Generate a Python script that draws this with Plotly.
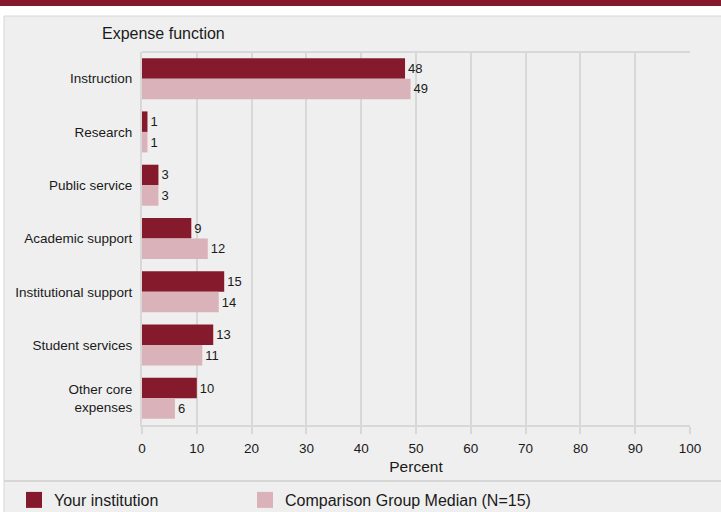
import plotly.graph_objects as go

categories = ["Instruction", "Research", "Public service", "Academic support",
              "Institutional support", "Student services", "Other core<br>expenses"]
your_institution = [48, 1, 3, 9, 15, 13, 10]
comparison_median = [49, 1, 3, 12, 14, 11, 6]
x_ticks = [0, 10, 20, 30, 40, 50, 60, 70, 80, 90, 100]
series_names = ["Your institution", "Comparison Group Median (N=15)"]

W, H = 721, 512
L, R, T, B = 142, 31, 52, 87
PW, PH = W - L - R, H - T - B
DARK = "#861a2d"
LIGHT = "#d9b3b9"
BG = "#efefef"
GRID = "#d8d8d8"
TXT = "#1a1a1a"
FONT = "Arial, Liberation Sans, sans-serif"


def px(x):
    # screen pixel -> plot-area-relative paper coordinate
    return (x - L) / PW


def py(y):
    return (H - B - y) / PH


fig = go.Figure()
for name, vals, col in [(series_names[0], your_institution, DARK),
                        (series_names[1], comparison_median, LIGHT)]:
    fig.add_trace(go.Bar(
        y=categories, x=vals, orientation="h", name=name, legendgroup=name,
        showlegend=False,
        marker=dict(color=col, line=dict(width=0)),
        text=[str(v) for v in vals], textposition="outside",
        textfont=dict(size=13, color=TXT, family=FONT), cliponaxis=False))

# legend entries (larger square swatches)
for i, (name, col) in enumerate([(series_names[0], DARK), (series_names[1], LIGHT)]):
    kw = dict(legendwidth=186) if i == 0 else {}
    fig.add_trace(go.Scatter(
        x=[None], y=[None], mode="markers", name=name, legendgroup=name,
        marker=dict(symbol="square", size=16, color=col, line=dict(width=0)),
        hoverinfo="skip", **kw))

shapes = [
    dict(type="rect", xref="paper", yref="paper", x0=px(-2), x1=px(725), y0=py(-2), y1=py(6),
         fillcolor=DARK, line=dict(width=0), layer="below"),
    dict(type="rect", xref="paper", yref="paper", x0=px(4), x1=px(730), y0=py(520), y1=py(16),
         fillcolor=BG, line=dict(color="#d6d6d6", width=1), layer="below"),
    dict(type="line", xref="paper", yref="paper", x0=px(4), x1=px(725), y0=py(481), y1=py(481),
         line=dict(color="#d6d6d6", width=2), layer="below"),
    dict(type="line", xref="paper", yref="paper", x0=0, x1=1, y0=1, y1=1,
         line=dict(color=GRID, width=2), layer="below"),
]

fig.update_layout(
    width=W, height=H,
    paper_bgcolor="white", plot_bgcolor=BG,
    margin=dict(l=L, r=R, t=T, b=B, autoexpand=False),
    barmode="group", bargap=0.23, bargroupgap=0,
    font=dict(family=FONT, size=13, color=TXT),
    shapes=shapes,
    showlegend=True,
    legend=dict(orientation="h", xref="container", yref="container",
                x=14 / W, xanchor="left", y=1 - 500 / H, yanchor="middle",
                font=dict(size=16, color=TXT, family=FONT),
                itemsizing="trace", bgcolor="rgba(0,0,0,0)",
                traceorder="normal", itemclick=False, itemdoubleclick=False),
    annotations=[dict(text="Expense function", xref="paper", yref="paper",
                      x=px(100), y=py(34), xanchor="left", yanchor="middle",
                      showarrow=False, font=dict(size=16, color=TXT, family=FONT))],
    xaxis=dict(range=[0, 100], tickvals=x_ticks, showgrid=True, gridcolor=GRID, gridwidth=2,
               zeroline=False, showline=True, linecolor=GRID, linewidth=2,
               ticks="outside", ticklen=7, tickcolor=GRID, tickwidth=2,
               ticklabelstandoff=3,
               tickfont=dict(size=13.5, color=TXT),
               title=dict(text="Percent", font=dict(size=15.5, color=TXT), standoff=6),
               fixedrange=True),
    yaxis=dict(autorange="reversed", showgrid=False, zeroline=False, showline=True,
               linecolor=GRID, linewidth=2, ticks="", ticklabelstandoff=5,
               tickfont=dict(size=13.5, color=TXT), fixedrange=True),
)

fig.write_html("out.html", config={"displayModeBar": False},
               post_script="document.body.style.margin='0';document.body.style.overflow='hidden';")
